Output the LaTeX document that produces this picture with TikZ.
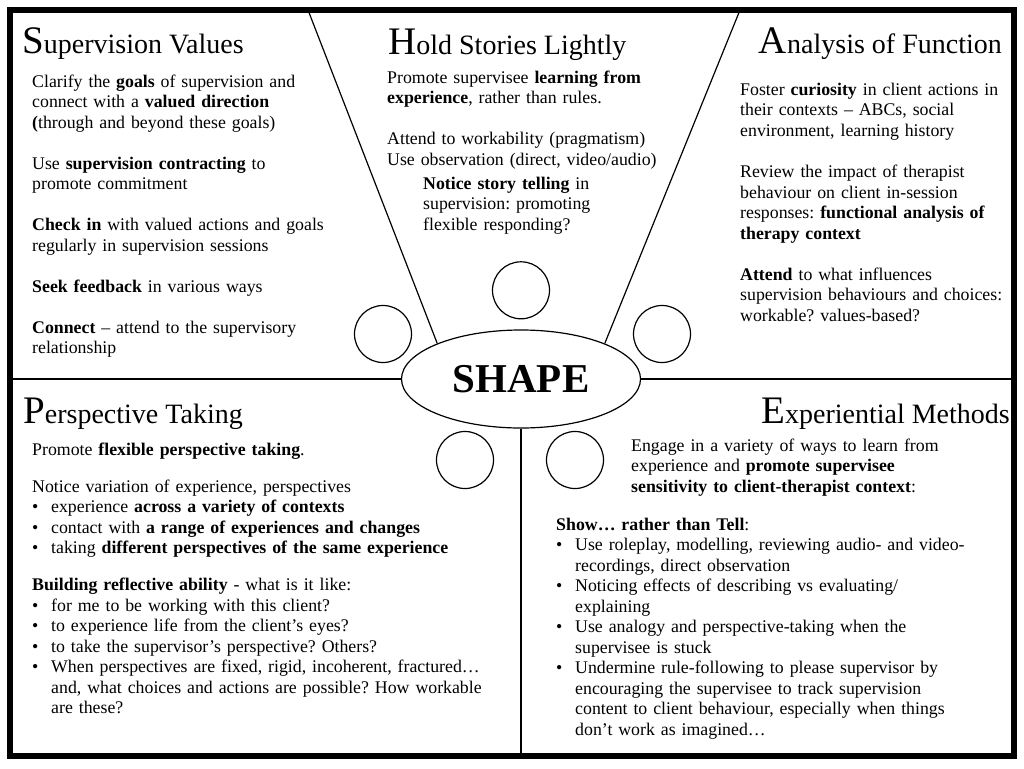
\documentclass[tikz,border=0pt]{standalone}
\usepackage{fontspec}
\setmainfont{Liberation Serif}
\usepackage{tikz}
\usetikzlibrary{positioning, calc, shapes.geometric}
\tikzset{
	x=1pt, y=-1pt,
	frame/.style={draw, line width=6pt, minimum width=1004pt, minimum height=746pt},
	divider/.style={line width=1.2pt},
	seat/.style={draw, circle, line width=1.2pt, minimum size=57pt, inner sep=0pt},
	hub/.style={draw, ellipse, line width=1.2pt, minimum width=239pt, minimum height=98pt, inner sep=0pt, font=\fontsize{41}{41}\selectfont\bfseries},
	heading/.style={inner sep=0pt, anchor=base west},
	body/.style={inner sep=0pt, anchor=base west, align=left, text width=#1, font=\fontsize{17.8}{20.5}\selectfont\frenchspacing},
	body/.default=360pt,
}
\newcommand{\headword}[2]{{\fontsize{39}{39}\selectfont #1}{\fontsize{28}{28}\selectfont #2}}
\newcommand{\bul}{\makebox[19pt][l]{\textbullet}}
\newcommand{\bulcont}{\hspace*{19pt}}

\begin{document}
\begin{tikzpicture}
	
	\fill[white] (0,0) rectangle (1024,768);
	\useasboundingbox (0,0) rectangle (1024,768);
	
	\node[frame] (border) at (512,383) {};
	\node[hub] (SHAPE) at (521,379) {SHAPE};
	
	\node[seat, above=10pt of SHAPE] (seatN) {};
	\node[seat] (seatW) at ([shift={(-138,-45)}]SHAPE.center) {};
	\node[seat] (seatE) at ([shift={(141,-45)}]SHAPE.center) {};
	\node[seat] (seatSW) at ([shift={(-56,81)}]SHAPE.center) {};
	\node[seat] (seatSE) at ([shift={(54,81)}]SHAPE.center) {};
	
	\coordinate (hL) at (308,10);
	\coordinate (hR) at (740,10);
	\draw[divider] (hL) -- (SHAPE.157);
	\draw[divider] (hR) -- (SHAPE.23);
	\draw[divider] (SHAPE.west) -- (SHAPE.west -| border.west);
	\draw[divider] (SHAPE.east) -- (SHAPE.east -| border.east);
	\draw[divider] (SHAPE.south) -- (SHAPE.south |- border.south);
	
	\node[heading] (SV) at (22,53) {\headword{S}{upervision Values}};
	\node[heading] (HSL) at (388,55) {\headword{H}{old Stories Lightly}};
	\node[heading, anchor=base east] (AF) at (1002,53) {\headword{A}{nalysis of Function}};
	\node[heading] (PT) at (23,423) {\headword{P}{erspective Taking}};
	\node[heading, anchor=base east] (EM) at (1010,423) {\headword{E}{xperiential Methods}};
	
	\node[body] (SVtext) at (32,87) {Clarify the \textbf{goals} of supervision and\\
		connect with a \textbf{valued direction}\\
		\textbf{(}through and beyond these goals)\\[20.5pt]
		Use \textbf{supervision contracting} to\\
		promote commitment\\[20.5pt]
		\textbf{Check in} with valued actions and goals\\
		regularly in supervision sessions\\[20.5pt]
		\textbf{Seek feedback} in various ways\\[20.5pt]
		\textbf{Connect} -- attend to the supervisory\\
		relationship};
	
	\node[body] (HSLtext) at (387,83) {Promote supervisee \textbf{learning from}\\
		\textbf{experience}, rather than rules.\\[20.5pt]
		Attend to workability (pragmatism)\\
		Use observation (direct, video/audio)};
	\node[body=280pt] (HSLnote) at (423,189) {\textbf{Notice story telling} in\\
		supervision: promoting\\
		flexible responding?};
	
	\node[body] (AFtext) at (740,95) {Foster \textbf{curiosity} in client actions in\\
		their contexts -- ABCs, social\\
		environment, learning history\\[21pt]
		Review the impact of therapist\\
		behaviour on client in-session\\
		responses: \textbf{functional analysis of}\\
		\textbf{therapy context}\\[20.5pt]
		\textbf{Attend} to what influences\\
		supervision behaviours and choices:\\
		workable? values-based?};
	
	\node[body=500pt] (PTtext) at (32,455) {Promote \textbf{flexible perspective taking}.\\[16.5pt]
		Notice variation of experience, perspectives\\
		\bul experience \textbf{across a variety of contexts}\\
		\bul contact with \textbf{a range of experiences and changes}\\
		\bul taking \textbf{different perspectives of the same experience}\\[16.5pt]
		\textbf{Building reflective ability} - what is it like:\\
		\bul for me to be working with this client?\\
		\bul to experience life from the client's eyes?\\
		\bul to take the supervisor's perspective? Others?\\
		\bul When perspectives are fixed, rigid, incoherent, fractured\dots\\
		\bulcont and, what choices and actions are possible? How workable\\
		\bulcont are these?};
	
	\node[body] (EMtext) at (631,451) {Engage in a variety of ways to learn from\\
		experience and \textbf{promote supervisee}\\
		\textbf{sensitivity to client-therapist context}:};
	\node[body=470pt] (EMshow) at (556,530) {\textbf{Show\dots{} rather than Tell}:\\
		\bul Use roleplay, modelling, reviewing audio- and video-\\
		\bulcont recordings, direct observation\\
		\bul Noticing effects of describing vs evaluating/\\
		\bulcont explaining\\
		\bul Use analogy and perspective-taking when the\\
		\bulcont supervisee is stuck\\
		\bul Undermine rule-following to please supervisor by\\
		\bulcont encouraging the supervisee to track supervision\\
		\bulcont content to client behaviour, especially when things\\
		\bulcont don't work as imagined\dots};
	
\end{tikzpicture}
\end{document}
